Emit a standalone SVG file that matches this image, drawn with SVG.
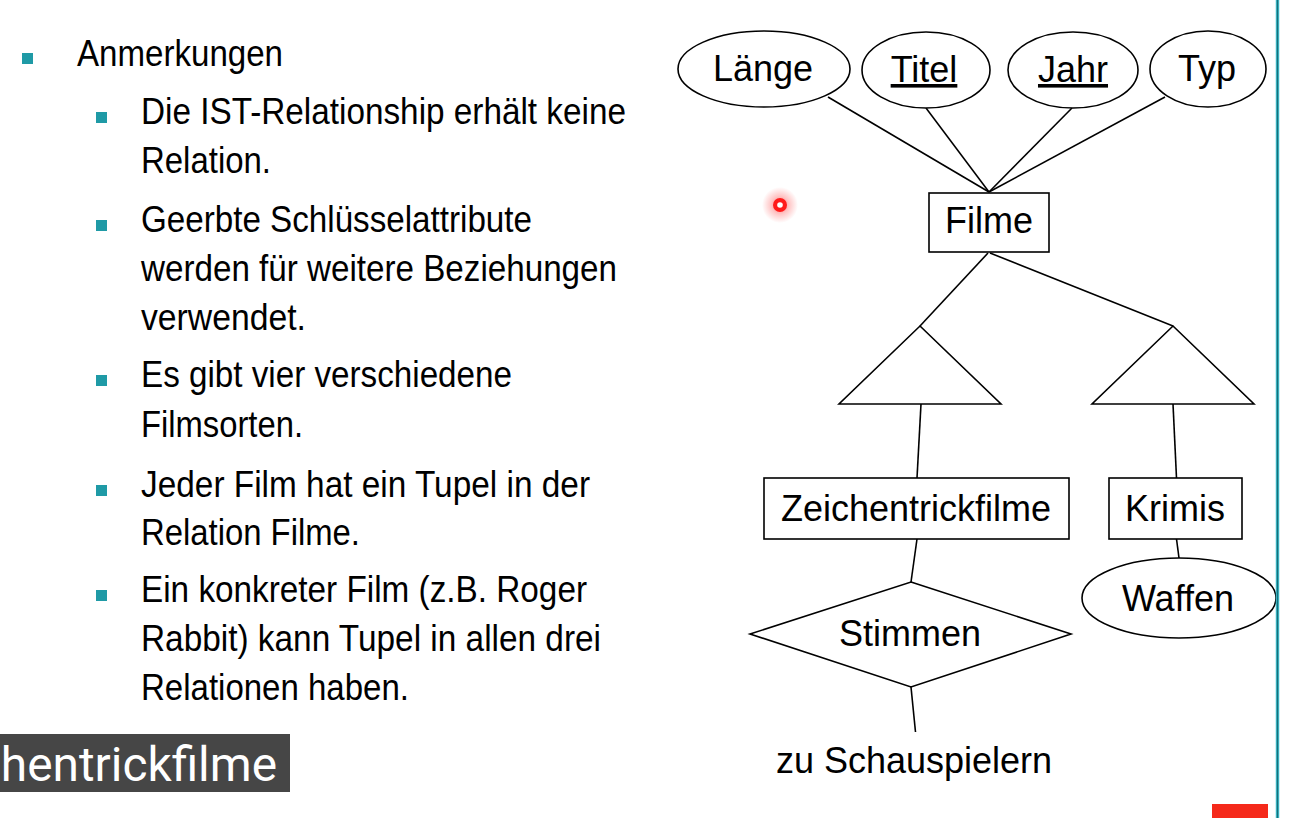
<svg xmlns="http://www.w3.org/2000/svg" width="1294" height="818" viewBox="0 0 1294 818">
<defs>
<style>
.bl{font-family:"Liberation Sans",Arial,sans-serif;font-size:36px;fill:#000}
.nt{font-family:"Liberation Sans",Arial,sans-serif;font-size:36px;fill:#000;text-anchor:middle}
.sh{fill:#fff;stroke:#000;stroke-width:1.6}
.cn line{stroke:#000;stroke-width:1.6}
.bu{fill:#1f9aa6}
</style>
<radialGradient id="glow" cx="0.5" cy="0.5" r="0.5">
<stop offset="0" stop-color="#ff3030" stop-opacity="0.7"/>
<stop offset="0.5" stop-color="#ff4040" stop-opacity="0.3"/>
<stop offset="1" stop-color="#ff4040" stop-opacity="0"/>
</radialGradient>
</defs>
<rect width="1294" height="818" fill="#fff"/>

<g id="notes">
<rect class="bu" x="22" y="53" width="11" height="11"/>
<text class="bl" x="77" y="66" textLength="206" lengthAdjust="spacingAndGlyphs">Anmerkungen</text>
<rect class="bu" x="96" y="112" width="11" height="11"/>
<text class="bl" x="141" y="124" textLength="485" lengthAdjust="spacingAndGlyphs">Die IST-Relationship erhält keine</text>
<text class="bl" x="141" y="173" textLength="130" lengthAdjust="spacingAndGlyphs">Relation.</text>
<rect class="bu" x="96" y="220" width="11" height="11"/>
<text class="bl" x="141" y="232" textLength="391" lengthAdjust="spacingAndGlyphs">Geerbte Schlüsselattribute</text>
<text class="bl" x="141" y="281" textLength="476" lengthAdjust="spacingAndGlyphs">werden für weitere Beziehungen</text>
<text class="bl" x="141" y="330" textLength="165" lengthAdjust="spacingAndGlyphs">verwendet.</text>
<rect class="bu" x="96" y="375" width="11" height="11"/>
<text class="bl" x="141" y="387" textLength="371" lengthAdjust="spacingAndGlyphs">Es gibt vier verschiedene</text>
<text class="bl" x="141" y="437" textLength="162" lengthAdjust="spacingAndGlyphs">Filmsorten.</text>
<rect class="bu" x="96" y="485" width="11" height="11"/>
<text class="bl" x="141" y="497" textLength="449" lengthAdjust="spacingAndGlyphs">Jeder Film hat ein Tupel in der</text>
<text class="bl" x="141" y="545" textLength="219" lengthAdjust="spacingAndGlyphs">Relation Filme.</text>
<rect class="bu" x="96" y="590" width="11" height="11"/>
<text class="bl" x="141" y="602" textLength="446" lengthAdjust="spacingAndGlyphs">Ein konkreter Film (z.B. Roger</text>
<text class="bl" x="141" y="651" textLength="460" lengthAdjust="spacingAndGlyphs">Rabbit) kann Tupel in allen drei</text>
<text class="bl" x="141" y="700" textLength="268" lengthAdjust="spacingAndGlyphs">Relationen haben.</text>
</g>

<g id="caption">
<rect x="0" y="734" width="290" height="58" fill="#464646"/>
<text x="277" y="781" font-family="Roboto,'Noto Sans',sans-serif" font-size="47.8" fill="#fff" text-anchor="end">hentrickfilme</text>
</g>

<g id="connectors" class="cn">
<line x1="828" y1="97" x2="989" y2="192"/>
<line x1="926" y1="108" x2="989" y2="192"/>
<line x1="1072" y1="108" x2="989" y2="192"/>
<line x1="1165" y1="97" x2="989" y2="192"/>
<line x1="988" y1="253" x2="920" y2="326"/>
<line x1="990" y1="253" x2="1173" y2="326"/>
<line x1="921" y1="404" x2="917" y2="478"/>
<line x1="1173" y1="404" x2="1176.5" y2="478"/>
<line x1="917" y1="539" x2="911" y2="582"/>
<line x1="1176.5" y1="539" x2="1179" y2="558"/>
<line x1="911" y1="687" x2="915.5" y2="732"/>
</g>

<g id="laenge">
<ellipse class="sh" cx="764" cy="69" rx="86" ry="38"/>
<text class="nt" x="763" y="81">Länge</text>
</g>
<g id="titel">
<ellipse class="sh" cx="926" cy="70" rx="64" ry="38"/>
<text class="nt" x="924" y="82" text-decoration="underline">Titel</text>
</g>
<g id="jahr">
<ellipse class="sh" cx="1073" cy="70" rx="65" ry="38"/>
<text class="nt" x="1073" y="82" text-decoration="underline">Jahr</text>
</g>
<g id="typ">
<ellipse class="sh" cx="1208" cy="69" rx="58" ry="38"/>
<text class="nt" x="1207" y="81">Typ</text>
</g>
<g id="filme">
<rect class="sh" x="929" y="193" width="120" height="59"/>
<text class="nt" x="989" y="233">Filme</text>
</g>
<g id="ist-links">
<polygon class="sh" points="920,326 1001,404 839,404"/>
</g>
<g id="ist-rechts">
<polygon class="sh" points="1173,326 1254,404 1092,404"/>
</g>
<g id="zeichentrickfilme">
<rect class="sh" x="764" y="478" width="305" height="61"/>
<text class="nt" x="916" y="521">Zeichentrickfilme</text>
</g>
<g id="krimis">
<rect class="sh" x="1109" y="478" width="133" height="61"/>
<text class="nt" x="1175" y="521">Krimis</text>
</g>
<g id="stimmen">
<polygon class="sh" points="911,582 1071,634 911,687 750,634"/>
<text class="nt" x="910" y="646">Stimmen</text>
</g>
<g id="waffen">
<ellipse class="sh" cx="1179" cy="598" rx="97" ry="40"/>
<text class="nt" x="1178" y="611">Waffen</text>
</g>
<g id="schauspieler">
<text class="nt" x="914" y="773">zu Schauspielern</text>
</g>

<g id="pointer">
<circle cx="780" cy="205" r="18" fill="url(#glow)"/>
<circle cx="780" cy="205" r="7" fill="#ff1a1a"/>
<circle cx="780" cy="205" r="2.8" fill="#fff"/>
</g>

<g id="frame">
<line x1="1277.5" y1="0" x2="1277.5" y2="818" stroke="#45c4d2" stroke-width="3.5"/>
<line x1="1277.5" y1="0" x2="1277.5" y2="818" stroke="#16707c" stroke-width="1.5"/>
<rect x="1212" y="804" width="56" height="14" fill="#f5291a"/>
</g>
</svg>
